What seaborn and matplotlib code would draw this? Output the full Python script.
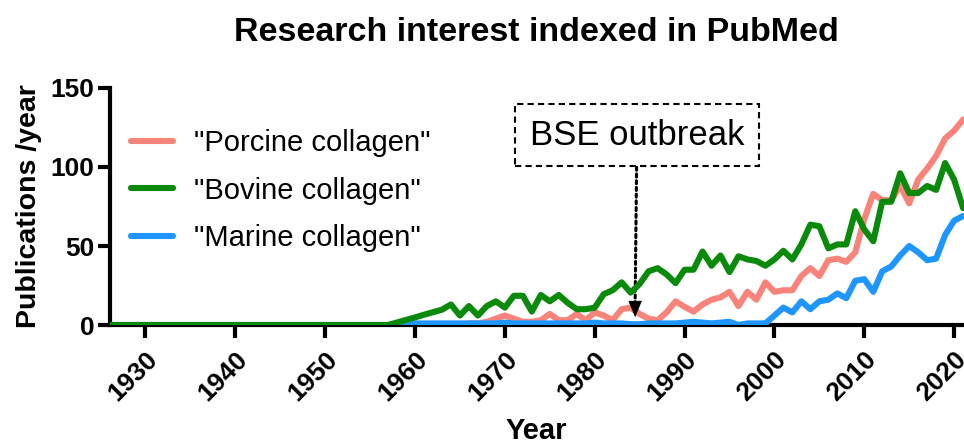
import numpy as np
import pandas as pd
import matplotlib
matplotlib.use('Agg')
import matplotlib.pyplot as plt
import seaborn as sns

# Years covered by the PubMed counts
years = list(range(1926, 2022))

# Publications per year (1926 .. 2021)
porcine = [0, 0, 0, 0, 0, 0, 0, 0, 0, 0,
           0, 0, 0, 0, 0, 0, 0, 0, 0, 0,
           0, 0, 0, 0, 0, 0, 0, 0, 0, 0,
           0, 0, 0, 0, 0, 0, 0, 0, 0, 0,
           1, 1, 2, 4, 6, 4, 2, 2, 3, 7,
           3, 3, 7, 3, 8, 6, 3, 10, 11, 7,
           4, 3, 8, 15, 11.5, 8.5, 13, 16, 17.5, 21,
           12, 21, 16, 27, 21, 22, 22, 31, 36, 31,
           41, 42, 40, 46, 67, 83, 79, 79, 88, 77,
           92, 99, 107, 118, 123, 130]

bovine = [0, 0, 0, 0, 0, 0, 0, 0, 0, 0,
          0, 0, 0, 0, 0, 0, 0, 0, 0, 0,
          0, 0, 0, 0, 0, 0, 0, 0, 0, 0,
          0, 0, 1.6, 3.2, 4.8, 6.5, 8.1, 9.7, 13, 6,
          12, 6, 12, 15, 11, 18.5, 18.5, 8.5, 19, 15,
          19, 14, 10, 10, 11, 19.5, 22, 27, 20.5, 26,
          34, 36, 32, 26.5, 35, 35, 46.5, 37.5, 44, 33.5,
          43.5, 41.5, 40.5, 37.5, 41.5, 47, 41.5, 51, 63.5, 62.5,
          48.5, 51, 51, 72, 60.5, 53, 78, 78, 96, 83.5,
          83.5, 88, 85.5, 102.5, 92, 74]

marine = [0, 0, 0, 0, 0, 0, 0, 0, 0, 0,
          0, 0, 0, 0, 0, 0, 0, 0, 0, 0,
          0, 0, 0, 0, 0, 0, 0, 0, 0, 0,
          0, 0, 0.5, 1, 1, 1, 1, 1, 1, 1,
          1, 1, 1, 1, 1.5, 1, 1, 1, 1, 1,
          1, 1, 1, 1, 1.5, 1, 1, 1, 0.5, 0.5,
          1, 1, 1, 1, 1.5, 2, 1.5, 1, 1.5, 2,
          0, 1, 1, 1, 6, 11, 8, 15, 10, 15,
          16, 20, 17, 28, 29, 21, 34, 37, 44, 50,
          46, 41, 42, 57, 66, 69]

labels = ['"Porcine collagen"', '"Bovine collagen"', '"Marine collagen"']
colors = ['#F8837A', '#0A8A0A', '#1E95FF']

df = pd.DataFrame({'Year': years, 'Porcine': porcine, 'Bovine': bovine, 'Marine': marine})

sns.set_style('ticks')
plt.rcParams['font.family'] = ['Liberation Sans', 'DejaVu Sans']
for k in ['text.color', 'axes.labelcolor', 'xtick.color', 'ytick.color', 'axes.edgecolor']:
    plt.rcParams[k] = 'black'

fig = plt.figure(figsize=(9.64, 4.44), dpi=100)
ax = fig.add_axes([109.5 / 964, 119 / 444, (964 - 109.5) / 964, 237 / 444])

# draw order: porcine, marine, bovine on top
sns.lineplot(data=df, x='Year', y='Porcine', color=colors[0], linewidth=4.4, ax=ax, label=labels[0], zorder=2)
sns.lineplot(data=df, x='Year', y='Marine', color=colors[2], linewidth=4.4, ax=ax, label=labels[2], zorder=3)
sns.lineplot(data=df, x='Year', y='Bovine', color=colors[1], linewidth=4.4, ax=ax, label=labels[1], zorder=4)

ax.set_xlim(1926, 2021.1)
ax.set_ylim(0, 150)
ax.set_xticks(range(1930, 2021, 10))
ax.set_yticks([0, 50, 100, 150])

sns.despine(ax=ax)
for s in ['left', 'bottom']:
    ax.spines[s].set_linewidth(3)
ax.tick_params(axis='both', width=3, length=9, labelsize=19)
ax.tick_params(axis='y', pad=2)
ax.tick_params(axis='x', pad=7)
for lab in ax.get_yticklabels():
    lab.set_fontweight('bold')
for lab in ax.get_xticklabels():
    lab.set_fontweight('bold')
    lab.set_rotation(45)
    lab.set_ha('right')
    lab.set_va('top')
    lab.set_rotation_mode('anchor')

ax.set_xlabel('Year', fontsize=21, fontweight='bold', labelpad=8)
ax.set_ylabel('Publications /year', fontsize=20.5, fontweight='bold', labelpad=6)
ax.set_title('Research interest indexed in PubMed', fontsize=24.5, fontweight='bold', pad=34)

# legend in the original order
h, l = ax.get_legend_handles_labels()
order = [l.index(t) for t in labels]
leg = ax.legend([h[i] for i in order], [l[i] for i in order], loc='upper left',
                bbox_to_anchor=(0.008, 0.888), frameon=False, fontsize=21,
                handlelength=1.45, handletextpad=0.7, labelspacing=0.67, borderpad=0)

# BSE outbreak label: dashed box with a dotted pointer and a solid head
bse_year = 1984.5
ax.annotate('BSE outbreak', xy=(bse_year, 14.5), xytext=(1984.7, 120),
            fontsize=25, ha='center', va='center',
            bbox=dict(boxstyle='square,pad=0.42', fc='white', ec='black', lw=1.5, ls=(0, (3, 2))),
            arrowprops=dict(arrowstyle='-', color='black', lw=2.2, ls=(0, (1, 1.2)),
                            shrinkA=0, shrinkB=0))
ax.annotate('', xy=(bse_year, 5), xytext=(bse_year, 14.5),
            arrowprops=dict(arrowstyle='-|>,head_length=0.72,head_width=0.3', mutation_scale=15,
                            color='black', lw=0.5, shrinkA=0, shrinkB=0))

fig.savefig('out.png', dpi=100)
